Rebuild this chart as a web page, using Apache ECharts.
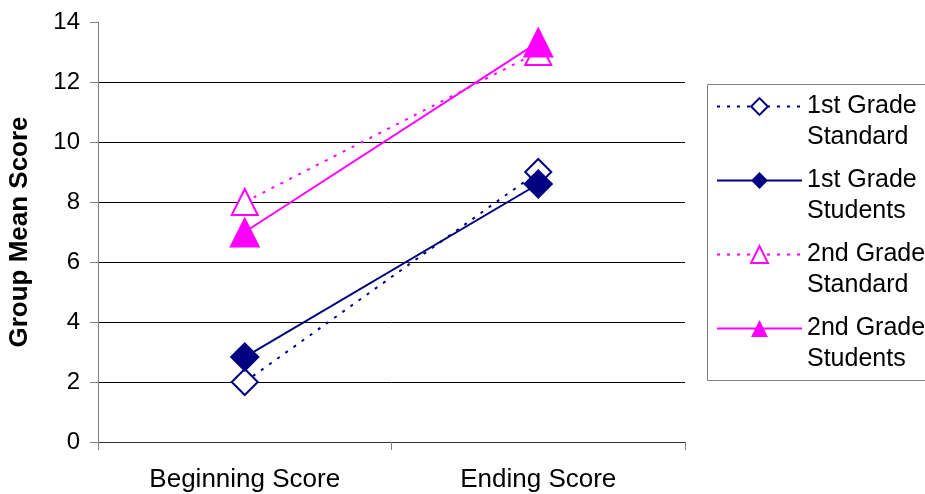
<!DOCTYPE html>
<html>
<head>
<meta charset="utf-8">
<script src="https://cdn.jsdelivr.net/npm/echarts@6/dist/echarts.min.js"></script>
<style>html,body{margin:0;padding:0;background:#fff;}#c{width:925px;height:494px;}</style>
</head>
<body>
<div id="c"></div>
<script>
const categories = ['Beginning Score', 'Ending Score'];
const seriesNames = ['1st Grade\nStandard', '1st Grade\nStudents', '2nd Grade\nStandard', '2nd Grade\nStudents'];
const firstStandard = [2, 9];
const firstStudents = [2.83, 8.6];
const secondStandard = [8, 13];
const secondStudents = [7, 13.33];
const yTicks = [0, 14, 2];

const NAVY = '#000080', PINK = '#FF00FF';
const FONT = '"Liberation Sans", Arial, sans-serif';

function mk(name, data, color, hollow, sym, size, dotted) {
  return {
    name: name, type: 'line', data: data,
    symbol: sym, symbolSize: size,
    lineStyle: { color: color, width: 2, type: dotted ? [3, 7] : 'solid' },
    itemStyle: hollow ? { color: '#fff', borderColor: color, borderWidth: 2 } : { color: color, borderColor: color, borderWidth: 0 },
    emphasis: { disabled: true },
    animation: false,
    z: hollow ? 2 : 3
  };
}

const chart = echarts.init(document.getElementById('c'), null, { renderer: 'canvas' });
chart.setOption({
  backgroundColor: '#fff',
  animation: false,
  grid: { left: 98, right: 240, top: 22, bottom: 52, containLabel: false, outerBoundsMode: 'none' },
  graphic: [{
    type: 'rect', left: 707, top: 84, z: -1, silent: true,
    shape: { width: 240, height: 296 },
    style: { fill: '#fff', stroke: '#808080', lineWidth: 1 }
  }],
  xAxis: {
    type: 'category', data: categories, boundaryGap: true,
    axisLine: { lineStyle: { color: '#333', width: 1 } },
    axisTick: { show: true, length: 8, lineStyle: { color: '#808080' } },
    axisLabel: { color: '#000', fontSize: 26, fontFamily: FONT, margin: 25 },
    splitLine: { show: false }
  },
  yAxis: {
    type: 'value', min: yTicks[0], max: yTicks[1], interval: yTicks[2],
    name: 'Group Mean Score', nameLocation: 'middle', nameGap: 65, nameRotate: 90,
    nameTextStyle: { color: '#000', fontSize: 26, fontWeight: 'bold', fontFamily: FONT },
    axisLine: { show: true, lineStyle: { color: '#808080', width: 1 } },
    axisTick: { show: true, length: 8, lineStyle: { color: '#808080' } },
    axisLabel: { color: '#000', fontSize: 24, fontFamily: FONT, margin: 18 },
    splitLine: { show: true, lineStyle: { color: ['#000', '#000', '#000', '#000', '#000', '#000', '#000', 'rgba(0,0,0,0)'], width: 1 } }
  },
  legend: {
    orient: 'vertical', left: 707, top: 84,
    padding: [-24, 30, 5, 9],
    itemWidth: 85, itemHeight: 21, itemGap: -19,
    borderWidth: 0, backgroundColor: 'transparent',
    formatter: function (n) { return ' \n' + n; },
    textStyle: { color: '#000', fontSize: 25, fontFamily: FONT, lineHeight: 31 },
    data: seriesNames
  },
  series: [
    mk(seriesNames[0], firstStandard, NAVY, true, 'diamond', 26, true),
    mk(seriesNames[1], firstStudents, NAVY, false, 'diamond', 30, false),
    mk(seriesNames[2], secondStandard, PINK, true, 'triangle', 26, true),
    mk(seriesNames[3], secondStudents, PINK, false, 'triangle', 31, false)
  ]
});
</script>
</body>
</html>
